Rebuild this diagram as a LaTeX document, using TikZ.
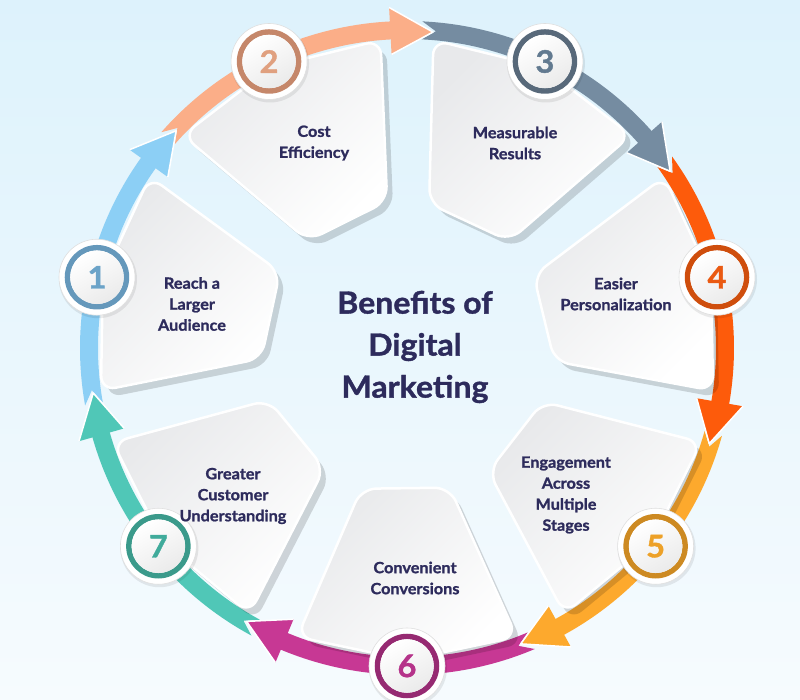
\documentclass[tikz,border=0pt]{standalone}
\usepackage{fontspec}
\setmainfont{Lato}[FakeStretch=1.05, BoldFeatures={FakeBold=1.2}]
\definecolor{bgtop}{HTML}{DDF2FC}
\definecolor{bgbot}{HTML}{F6FBFE}
\definecolor{ink}{HTML}{2D2B5C}
\definecolor{cardgray}{HTML}{E8E9EB}
\definecolor{bandA}{HTML}{8CCFF5}
\definecolor{bandB}{HTML}{FBAE88}
\definecolor{bandC}{HTML}{758CA1}
\definecolor{bandD}{HTML}{FD5B0B}
\definecolor{bandE}{HTML}{FDA92D}
\definecolor{bandF}{HTML}{C73894}
\definecolor{bandG}{HTML}{50C7B7}
\definecolor{ringA}{HTML}{6598BB}
\definecolor{ringB}{HTML}{C5876A}
\definecolor{ringC}{HTML}{58697A}
\definecolor{ringD}{HTML}{CF4E0D}
\definecolor{ringE}{HTML}{CD8A22}
\definecolor{ringF}{HTML}{962A72}
\definecolor{ringG}{HTML}{3B9A8B}
\definecolor{digA}{HTML}{6BA3C8}
\definecolor{digB}{HTML}{E0A07F}
\definecolor{digC}{HTML}{627A90}
\definecolor{digD}{HTML}{EA5A12}
\definecolor{digE}{HTML}{EDA128}
\definecolor{digF}{HTML}{B5338A}
\definecolor{digG}{HTML}{40AB9B}
\tikzset{
  cardtext/.style={text=ink, font=\fontsize{15.5}{21}\selectfont\bfseries, align=center, inner sep=0pt},
  titletext/.style={text=ink, font=\fontsize{30.5}{42}\selectfont\bfseries, align=center, inner sep=0pt},
  digit/.style={font=\fontsize{31}{31}\selectfont\bfseries, inner sep=0pt},
  cardshadow/.style={fill=black, fill opacity=0.15, rounded corners=15pt},
  cardbody/.style={top color=cardgray, bottom color=white, shading angle=45, draw=white, line width=2.5pt, rounded corners=15pt},
}
\begin{document}
\begin{tikzpicture}[x=1pt,y=1pt]
\useasboundingbox (-407,-352) rectangle (393,348);
\shade[top color=bgtop, bottom color=bgbot] (-407,-352) rectangle (393,348);

% band bodies
\foreach \t/\c in {167.14/bandA, 115.71/bandB, 64.29/bandC, 12.86/bandD, -38.57/bandE, -90/bandF, -141.43/bandG} {
  \pgfmathsetmacro\a{\t+23}
  \pgfmathsetmacro\n{\t+20.5}
  \pgfmathsetmacro\b{\t-23.3}
  \fill[\c] (\a:327) arc[start angle=\a, end angle=\b, radius=327] -- (\b:309) arc[start angle=\b, end angle=\a, radius=309] -- (\n:318) -- cycle;
}
% arrow heads
\foreach \t/\c in {167.14/bandA, 115.71/bandB, 64.29/bandC, 12.86/bandD, -38.57/bandE, -90/bandF, -141.43/bandG} {
  \pgfmathsetmacro\b{\t-22.7}
  \pgfmathsetmacro\p{\t-30.4}
  \fill[\c] (\b:294) -- (\b:341) -- (\p:317) -- cycle;
  \draw[white, line width=1.5pt, line join=round] (\b:294) -- (\p:317) -- (\b:341);
}
% card shadows
\foreach \t in {167.14, 115.71, 64.29, 12.86, -38.57, -90, -141.43} {
  \path[cardshadow, shift={(6,-7)}] ({\t-18}:148) -- ({\t+17}:146) -- ({\t+20.8}:309) -- (\t:312) -- ({\t-20.8}:309) -- cycle;
}
% cards
\foreach \t in {167.14, 115.71, 64.29, 12.86, -38.57, -90, -141.43} {
  \path[cardbody] ({\t-18}:148) -- ({\t+17}:146) -- ({\t+20.8}:309) -- (\t:312) -- ({\t-20.8}:309) -- cycle;
}
% badges
\foreach \t/\rc/\dc/\num in {167.14/ringA/digA/1, 115.71/ringB/digB/2, 64.29/ringC/digC/3, 12.86/ringD/digD/4, -38.57/ringE/digE/5, -90/ringF/digF/6, -141.43/ringG/digG/7} {
  \fill[black, opacity=0.08, shift={(1,-2)}] (\t:318) circle (39);
  \filldraw[fill=white, draw=gray!25, line width=0.6pt] (\t:318) circle (38);
  \draw[\rc, line width=5.5pt] (\t:318) circle (29.5);
  \shade[top color=white, bottom color=gray!16, shading angle=30] (\t:318) circle (26.8);
  \node[digit, text=\dc] (b\num) at (\t:318) {\num};
}
% texts
\node[cardtext] (t1) at (-215,44) {Reach a\\Larger\\Audience};
\node[cardtext] (t2) at (-93,205) {Cost\\Efficiency};
\node[cardtext] (t3) at (108,205) {Measurable\\Results};
\node[cardtext] (t4) at (209,54) {Easier\\Personalization};
\node[cardtext] (t5) at (159,-147) {Engagement\\Across\\Multiple\\Stages};
\node[cardtext] (t6) at (8,-230) {Convenient\\Conversions};
\node[cardtext] (t7) at (-174,-148) {Greater\\Customer\\Understanding};
\node[titletext] (title) at (8,1) {Benefits of\\Digital\\Marketing};
\end{tikzpicture}
\end{document}
